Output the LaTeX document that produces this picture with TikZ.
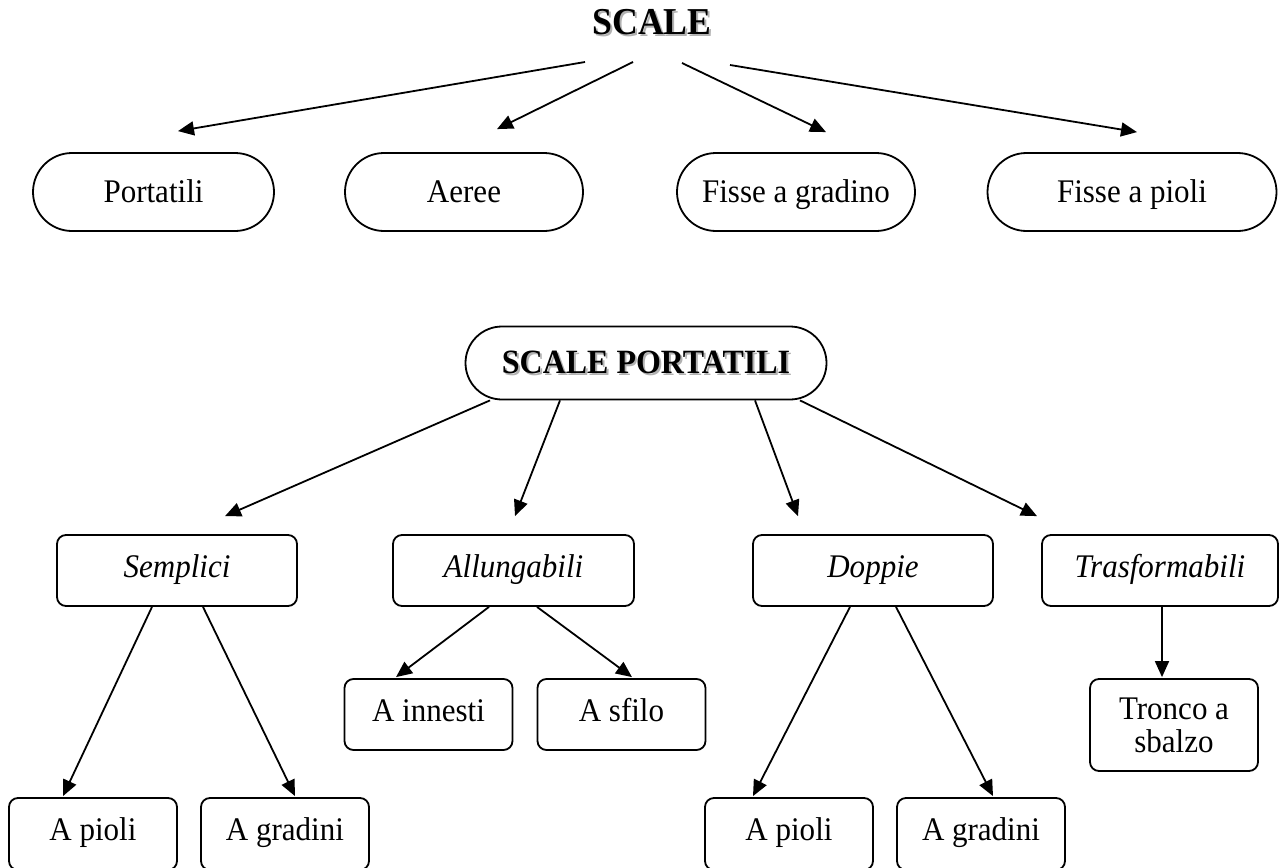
\documentclass[tikz,border=0pt]{standalone}
\usepackage{fontspec}
\setmainfont[FakeStretch=0.94]{Liberation Serif}
\usetikzlibrary{shapes.misc,arrows.meta,calc}

\newcommand{\shadowed}[1]{\makebox[0pt][l]{\hspace{2pt}\raisebox{-2pt}{\textcolor{black!30}{#1}}}#1}

\tikzset{
    txt/.style={font=\fontsize{33}{33}\selectfont, text height=21pt, text depth=8pt},
    oval/.style={txt, draw, rounded rectangle, line width=1.8pt, minimum height=78pt, inner sep=0pt, text height=27pt, text depth=6pt},
    kind/.style={txt, draw, rounded corners=9pt, line width=1.8pt, minimum height=71pt, inner sep=0pt, font=\fontsize{33}{33}\selectfont\itshape},
    leaf/.style={txt, draw, rounded corners=9pt, line width=1.8pt, minimum width=168pt, minimum height=71pt, inner sep=0pt},
    arr/.style={-{Triangle[length=16pt,width=14pt]}, line width=1.8pt}
}

\begin{document}
\begin{tikzpicture}[x=1pt, y=-1pt]

\useasboundingbox[fill=white] (0,0) rectangle (1279,867);

\node[font=\fontsize{38}{40}\selectfont\bfseries] (title) at (652,23) {\shadowed{SCALE}};

% Top row
\node[oval, minimum width=241pt] (por) at (153.5,192) {Portatili};
\node[oval, minimum width=238pt] (aer) at (464,192) {Aeree};
\node[oval, minimum width=238pt] (fgr) at (796,192) {Fisse a gradino};
\node[oval, minimum width=289pt] (fpi) at (1132,192) {Fisse a pioli};

\foreach \dx/\dy/\tgt/\ex/\ey in {-67/39/por/24.5/-21, -19/39/aer/33/-23, 30/40/fgr/30/-20, 78/42/fpi/5/-20}
    \draw[arr] ($(title.center)+(\dx,\dy)$) -- ($(\tgt.north)+(\ex,\ey)$);

% Scale portatili
\node[oval, minimum width=361pt, minimum height=73pt, text height=24pt, text depth=4pt, font=\fontsize{34}{36}\selectfont\bfseries] (sp) at (646,363) {\shadowed{SCALE PORTATILI}};

\node[kind, minimum width=240pt] (sem) at (177,570.5) {Semplici};
\node[kind, minimum width=241pt] (all) at (513.5,570.5) {Allungabili};
\node[kind, minimum width=240pt] (dop) at (873,570.5) {Doppie};
\node[kind, minimum width=236pt] (tra) at (1160,570.5) {Trasformabili};

\foreach \dx/\tgt/\ex in {-156/sem/48, -86/all/1.5, 109/dop/-75, 154/tra/-123}
    \draw[arr] ($(sp.south)+(\dx,0)$) -- ($(\tgt.north)+(\ex,-18)$);

% Leaves
\node[leaf] (inn) at (428.5,714.5) {A innesti};
\node[leaf] (sfi) at (621.5,714.5) {A sfilo};
\node[leaf, minimum height=92pt, align=center, text height=, text depth=] (tro) at (1174,725) {Tronco a\\sbalzo};

\foreach \nm/\x/\lbl in {pa/93/A pioli, ga/285/A gradini, pb/789/A pioli, gb/981/A gradini}
    \node[leaf, minimum height=72pt] (\nm) at (\x,834) {\lbl};

\foreach \src/\dx/\tgt/\ex in {sem/-25/pa/-30, sem/26/ga/10, all/-24.5/inn/-32.5, all/23.5/sfi/10.5, dop/-23/pb/-36, dop/23/gb/12, tra/2/tro/-12}
    \draw[arr] ($(\src.south)+(\dx,0)$) -- ($(\tgt.north)+(\ex,-1)$);

\end{tikzpicture}
\end{document}
